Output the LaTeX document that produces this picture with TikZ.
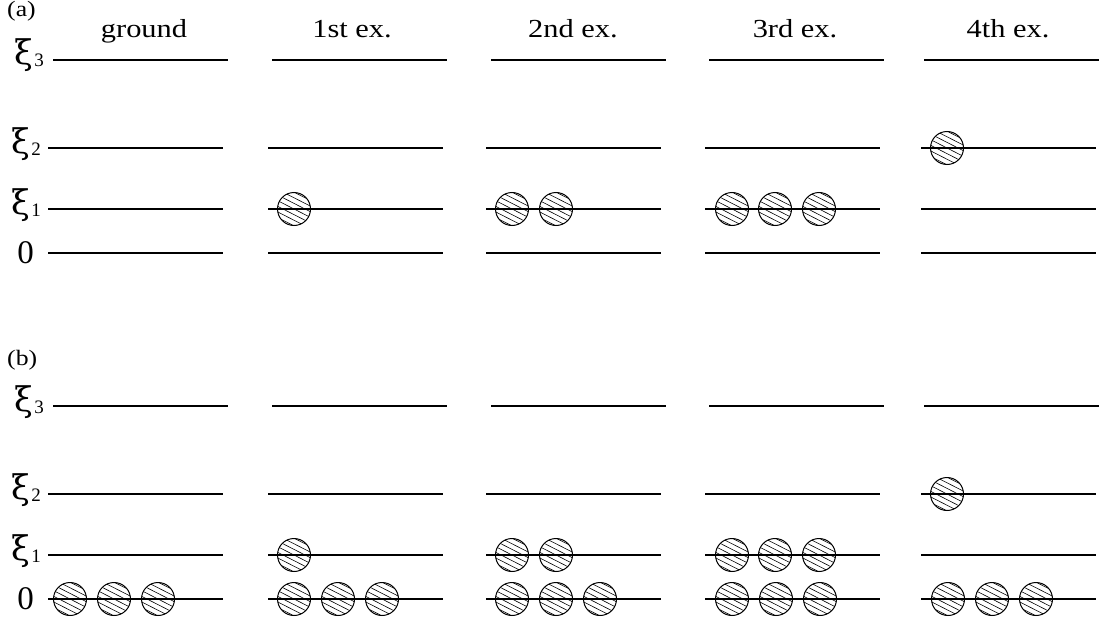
\documentclass[tikz,border=0pt]{standalone}
\usepackage{fontspec}
\setmainfont{Liberation Serif}
\newfontfamily\xifont{DejaVu Serif}
\newcommand\stt[1]{\scalebox{1.17}[1]{#1}}
\newcommand\xisub[1]{{\xifont ξ}\kern1pt\raisebox{-2pt}{\fontsize{19}{19}\selectfont #1}}
\begin{document}
\begin{tikzpicture}[x=1pt,y=1pt,
  lvl/.style={line width=1.1pt},
  ttl/.style={font=\fontsize{26}{26}\selectfont, anchor=base, inner sep=0pt},
  plab/.style={font=\fontsize{22}{22}\selectfont, anchor=base west, inner sep=0pt},
  xlab/.style={font=\fontsize{34}{34}\selectfont, anchor=base east, inner sep=0pt},
  zlab/.style={font=\fontsize{33}{33}\selectfont, anchor=east, inner sep=0pt},
  ball/.style={circle, draw, line width=1pt, minimum size=33pt, inner sep=0pt,
    path picture={
      \foreach \k in {-4,...,4} \draw[line width=0.6pt]
        ([shift={(\k*2.27-17.8,\k*4.46+9.08)}]path picture bounding box.center) -- ++(35.6,-18.16);
    }}]
\useasboundingbox (0,0) rectangle (1102,-623);
% titles
\node[ttl] (t0) at (144,-38) {\stt{ground}};
\node[ttl] (t1) at (352,-38) {\stt{1st ex.}};
\node[ttl] (t2) at (573,-38) {\stt{2nd ex.}};
\node[ttl] (t3) at (795,-38) {\stt{3rd ex.}};
\node[ttl] (t4) at (1008,-38) {\stt{4th ex.}};
% panel labels
\node[plab] (pa) at (7,-17) {\stt{(a)}};
\node[plab] (pb) at (7,-365) {\stt{(b)}};
\foreach \o/\p in {0/a,346/b}{
  % level labels
  \node[xlab] (x3\p) at (44,-60-\o-5) {\xisub{3}};
  \node[xlab] (x2\p) at (41,-148-\o-5) {\xisub{2}};
  \node[xlab] (x1\p) at (41,-209-\o-5) {\xisub{1}};
  \node[zlab] (z\p) at (34,-253-\o) {0};
  % level lines
  \foreach \s/\t in {48/53,268/272,486/491,705/709,921/924}{
    \draw[lvl] (\t,-60-\o) -- ++(175,0);
    \draw[lvl] (\s,-148-\o) -- ++(175,0);
    \draw[lvl] (\s,-209-\o) -- ++(175,0);
    \draw[lvl] (\s,-253-\o) -- ++(175,0);
  }
}
% panel (a)
\node[ball] (a1a) at (294,-209) {};
\node[ball] (a2a) at (512,-209) {};
\node[ball] (a2b) at (556,-209) {};
\node[ball] (a3a) at (732,-209) {};
\node[ball] (a3b) at (775,-209) {};
\node[ball] (a3c) at (819,-209) {};
\node[ball] (a4a) at (947,-148) {};
% panel (b)
\foreach \c/\n in {70/0,294/1,512/2,732/3,948/4}{
  \foreach \j in {0,1,2}{
    \node[ball] (bz\n\j) at (\c+\j*44,-599) {};
  }
}
\node[ball] (b1a) at (294,-555) {};
\node[ball] (b2a) at (512,-555) {};
\node[ball] (b2b) at (556,-555) {};
\node[ball] (b3a) at (732,-555) {};
\node[ball] (b3b) at (775,-555) {};
\node[ball] (b3c) at (819,-555) {};
\node[ball] (b4a) at (947,-494) {};
\end{tikzpicture}
\end{document}
